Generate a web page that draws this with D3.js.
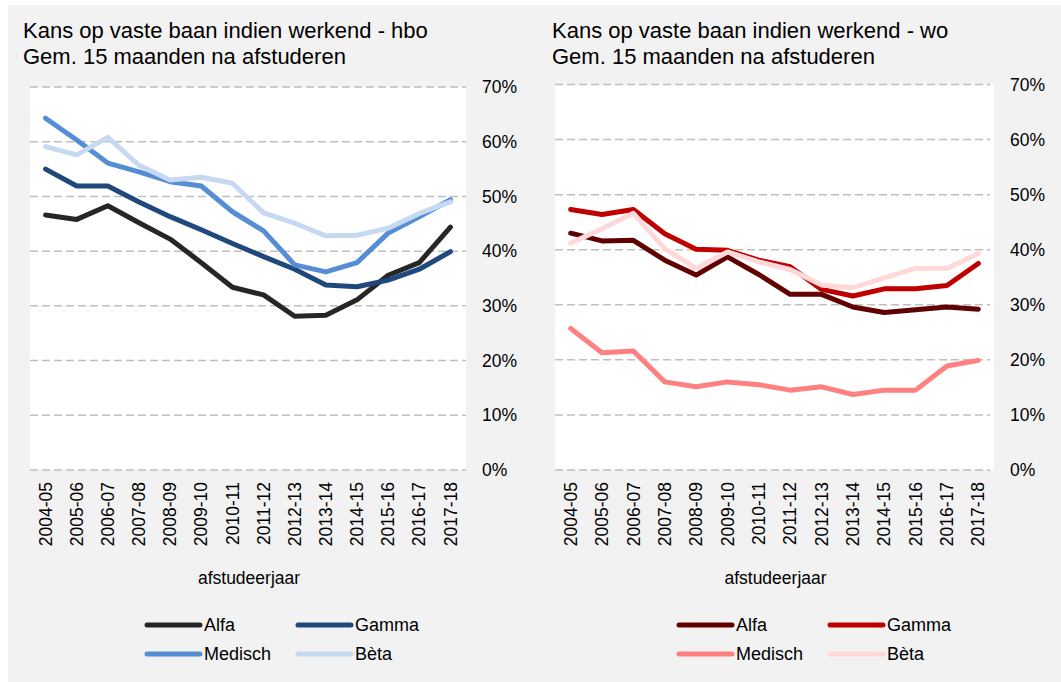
<!DOCTYPE html>
<html>
<head>
<meta charset="utf-8">
<script src="https://cdn.jsdelivr.net/npm/d3@7"></script>
<style>
  body { margin: 0; background: #ffffff; }
  svg { display: block; font-family: "Liberation Sans", Arial, sans-serif; }
</style>
</head>
<body>
<svg id="chart" width="1061" height="682"></svg>
<script>
// data
var jaren = ['2004-05', '2005-06', '2006-07', '2007-08', '2008-09', '2009-10', '2010-11',
             '2011-12', '2012-13', '2013-14', '2014-15', '2015-16', '2016-17', '2017-18'];
var yTicks = [0, 10, 20, 30, 40, 50, 60, 70];
var reeksen = ['Alfa', 'Gamma', 'Medisch', 'Bèta'];

var hboAlfa    = [46.6, 45.8, 48.3, 45.2, 42.2, 37.9, 33.4, 32.0, 28.1, 28.3, 31.1, 35.6, 37.9, 44.4];
var hboGamma   = [55.0, 51.9, 51.9, 49.0, 46.3, 43.9, 41.4, 39.0, 36.7, 33.8, 33.5, 34.7, 36.7, 39.9];
var hboMedisch = [64.3, 60.3, 56.1, 54.5, 52.7, 51.9, 47.2, 43.7, 37.5, 36.2, 37.9, 43.3, 46.3, 49.4];
var hboBeta    = [59.1, 57.6, 60.8, 55.7, 53.0, 53.5, 52.4, 47.0, 45.1, 42.8, 42.9, 44.2, 46.9, 49.0];

var woAlfa     = [43.0, 41.6, 41.7, 38.1, 35.4, 38.7, 35.5, 31.9, 31.9, 29.6, 28.6, 29.1, 29.6, 29.2];
var woGamma    = [47.3, 46.4, 47.3, 42.9, 40.1, 39.9, 38.1, 36.9, 32.8, 31.6, 32.9, 32.9, 33.5, 37.5];
var woMedisch  = [25.7, 21.3, 21.6, 16.0, 15.1, 16.0, 15.5, 14.5, 15.1, 13.7, 14.5, 14.5, 18.9, 19.9];
var woBeta     = [41.2, 43.8, 46.6, 40.2, 36.6, 39.6, 37.8, 36.4, 33.6, 33.1, 34.9, 36.6, 36.6, 39.3];

var hboKleuren = ['#262626', '#1f497d', '#558ed5', '#c6d9f1'];
var woKleuren  = ['#600000', '#c00000', '#ff8080', '#ffd9d9'];

var svg = d3.select('#chart');

// grijze achtergrond
svg.append('rect')
    .attr('x', 8).attr('y', 5)
    .attr('width', 1053).attr('height', 677)
    .attr('fill', '#f2f2f2');

function tekenPaneel(p) {
    var g = svg.append('g');

    var x = d3.scalePoint().domain(jaren).range([p.x0, p.x1]).padding(0.5);
    var y = d3.scaleLinear().domain([0, 70]).range([470, p.yTop]);

    // titel
    g.append('text').attr('x', p.titelX).attr('y', 37.5)
        .attr('font-size', '22px').attr('fill', '#000')
        .text(p.titel);
    g.append('text').attr('x', p.titelX).attr('y', 63.5)
        .attr('font-size', '22px').attr('fill', '#000')
        .text('Gem. 15 maanden na afstuderen');

    // plotvlak
    g.append('rect')
        .attr('x', p.x0).attr('y', y(70))
        .attr('width', p.x1 - p.x0).attr('height', y(0) - y(70))
        .attr('fill', '#ffffff');

    // rasterlijnen
    g.selectAll('.grid').data(yTicks).enter().append('line')
        .attr('x1', p.x0).attr('x2', p.gridX1)
        .attr('y1', function (d) { return y(d); })
        .attr('y2', function (d) { return y(d); })
        .attr('stroke', '#bfbfbf')
        .attr('stroke-width', 1.5)
        .attr('stroke-dasharray', '8,4');

    // y-as rechts
    g.selectAll('.ylab').data(yTicks).enter().append('text')
        .attr('x', p.labelX)
        .attr('y', function (d) { return y(d); })
        .attr('dy', '0.35em')
        .attr('font-size', '17.5px')
        .attr('fill', '#000')
        .text(function (d) { return d + '%'; });

    // x-as labels
    g.selectAll('.xlab').data(jaren).enter().append('text')
        .attr('transform', function (d) { return 'translate(' + x(d) + ',482) rotate(-90)'; })
        .attr('text-anchor', 'end')
        .attr('dy', '0.35em')
        .attr('font-size', '17.5px')
        .attr('fill', '#000')
        .text(function (d) { return d; });

    g.append('text')
        .attr('x', (p.x0 + p.x1) / 2 + 1).attr('y', 584)
        .attr('text-anchor', 'middle')
        .attr('font-size', '17.5px')
        .attr('fill', '#000')
        .text('afstudeerjaar');

    // lijnen
    var line = d3.line()
        .x(function (d, i) { return x(jaren[i]); })
        .y(function (d) { return y(d); });

    p.reeksen.forEach(function (reeks, i) {
        g.append('path')
            .attr('d', line(reeks))
            .attr('fill', 'none')
            .attr('stroke', p.kleuren[i])
            .attr('stroke-width', 5)
            .attr('stroke-linejoin', 'round')
            .attr('stroke-linecap', 'round');
    });

    // legenda
    var legX = [p.legX, p.legX + 151];
    var legY = [625, 654];
    reeksen.forEach(function (naam, i) {
        var lx = legX[i % 2];
        var ly = legY[Math.floor(i / 2)];
        g.append('line')
            .attr('x1', lx).attr('x2', lx + 53)
            .attr('y1', ly).attr('y2', ly)
            .attr('stroke', p.kleuren[i])
            .attr('stroke-width', 5)
            .attr('stroke-linecap', 'round');
        g.append('text')
            .attr('x', lx + 57).attr('y', ly)
            .attr('dy', '0.35em')
            .attr('font-size', '18px')
            .attr('fill', '#000')
            .text(naam);
    });
}

tekenPaneel({
    titel: 'Kans op vaste baan indien werkend - hbo', titelX: 23,
    x0: 30, x1: 466, gridX1: 466, yTop: 87, labelX: 482, legX: 147,
    reeksen: [hboAlfa, hboGamma, hboMedisch, hboBeta], kleuren: hboKleuren
});

tekenPaneel({
    titel: 'Kans op vaste baan indien werkend - wo', titelX: 552,
    x0: 555, x1: 994, gridX1: 990, yTop: 84.5, labelX: 1010, legX: 679,
    reeksen: [woAlfa, woGamma, woMedisch, woBeta], kleuren: woKleuren
});
</script>
</body>
</html>
